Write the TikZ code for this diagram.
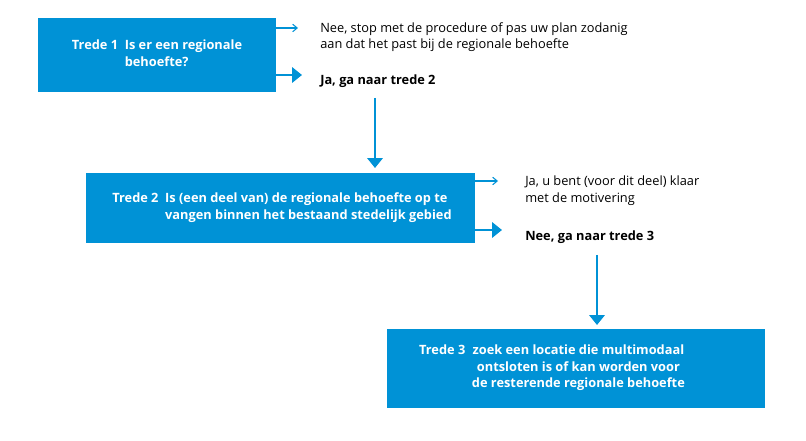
\documentclass[tikz,border=0pt]{standalone}
\usepackage{fontspec}
\setmainfont{Open Sans}
\usetikzlibrary{arrows.meta, positioning}
\definecolor{roblue}{HTML}{0092D6}
\tikzset{
    stepbox/.style={
        rectangle,
        fill=roblue,
        text=white,
        font=\fontsize{9.6}{12.5}\selectfont\bfseries,
        inner sep=0pt
    },
    answer/.style={
        anchor=north west,
        align=left,
        inner sep=0pt,
        font=\fontsize{9.6}{12.5}\selectfont
    },
    thin arrow/.style={
        -{Straight Barb[length=1.2mm,width=2mm]},
        draw=roblue,
        line width=0.8pt
    },
    thick arrow/.style={
        -{Triangle[length=2.6mm,width=4mm]},
        draw=roblue,
        line width=2.2pt
    }
}
\begin{document}
\begin{tikzpicture}[x=0.75pt,y=-0.75pt]
    \useasboundingbox (0,0) rectangle (806,441);

    % boxes
    \fill[roblue] (38,18) rectangle (276,92);
    \node[stepbox] (trede1) at (157,55) {\begin{tabular}{@{}l@{\ \ }l@{}}Trede 1 & Is er een regionale\\ & behoefte?\end{tabular}};
    \fill[roblue] (86,173) rectangle (475,243);
    \node[stepbox] (trede2) at (282,208) {\begin{tabular}{@{}l@{\ \ }l@{}}Trede 2 & Is (een deel van) de regionale behoefte op te\\ & vangen binnen het bestaand stedelijk gebied\end{tabular}};
    \fill[roblue] (387,329) rectangle (765,408);
    \node[stepbox] (trede3) at (552,368) {\begin{tabular}{@{}l@{\ \ }c@{}}Trede 3 & zoek een locatie die multimodaal\\ & ontsloten is of kan worden voor\\ & de resterende regionale behoefte\end{tabular}};

    % answers
    \node[answer] (nee1) at (320,22) {Nee, stop met de procedure of pas uw plan zodanig\\aan dat het past bij de regionale behoefte};
    \node[answer,font=\fontsize{9.6}{12.5}\selectfont\bfseries] (ja1) at (320,75) {Ja, ga naar trede 2};
    \node[answer] (ja2) at (525,176) {Ja, u bent (voor dit deel) klaar\\met de motivering};
    \node[answer,font=\fontsize{9.6}{12.5}\selectfont\bfseries] (nee2) at (525,231) {Nee, ga naar trede 3};

    % connectors
    \coordinate (a1) at (276,28);  \coordinate (b1) at (298,28);
    \coordinate (a2) at (276,75);  \coordinate (b2) at (302,75);
    \coordinate (a3) at (475,181); \coordinate (b3) at (498,181);
    \coordinate (a4) at (475,230); \coordinate (b4) at (502,230);
    \coordinate (a5) at (375,98);  \coordinate (b5) at (375,168);
    \coordinate (a6) at (597,255); \coordinate (b6) at (597,325);
    \draw[thin arrow] (a1) -- (b1);
    \draw[thick arrow] (a2) -- (b2);
    \draw[thin arrow] (a3) -- (b3);
    \draw[thick arrow] (a4) -- (b4);
    \draw[thick arrow] (a5) -- (b5);
    \draw[thick arrow] (a6) -- (b6);
\end{tikzpicture}
\end{document}
